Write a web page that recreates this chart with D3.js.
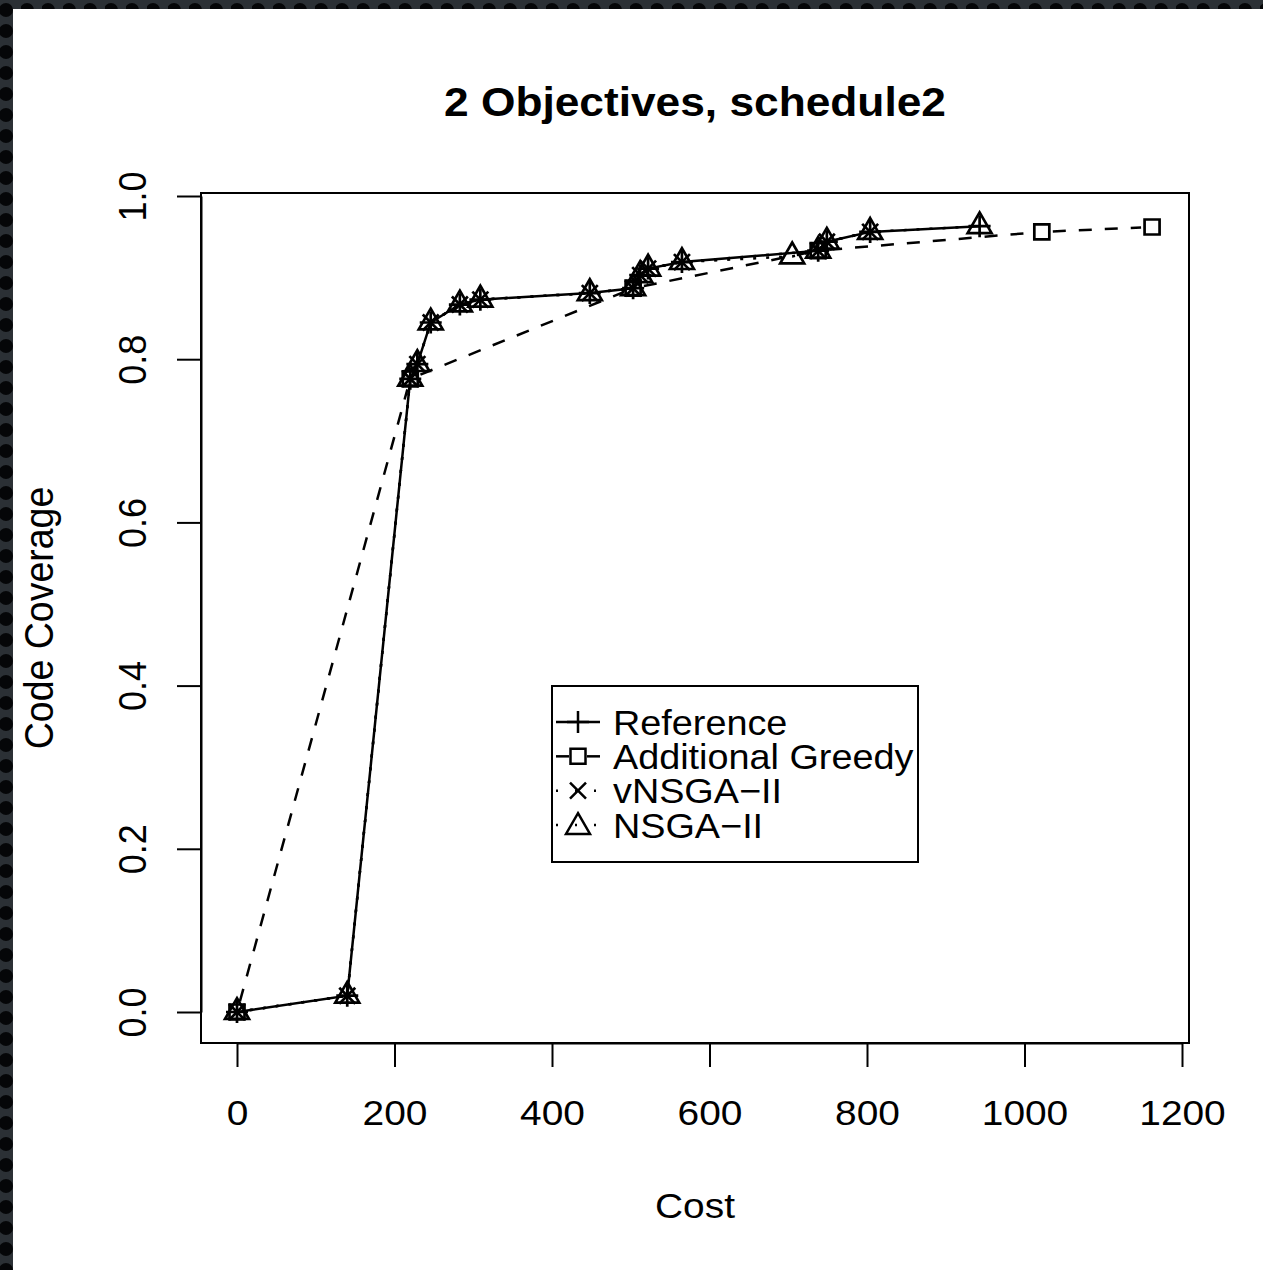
<!DOCTYPE html>
<html>
<head>
<meta charset="utf-8">
<script src="https://cdn.jsdelivr.net/npm/d3@7"></script>
<style>
  body { margin: 0; background: #fff; }
  svg text { font-family: "Liberation Sans", Arial, Helvetica, sans-serif; fill: #000; }
</style>
</head>
<body>
<div id="chart"></div>
<script>
// data
var xTicks = [0, 200, 400, 600, 800, 1000, 1200];
var yTicks = [0, 0.2, 0.4, 0.6, 0.8, 1.0];
var yTickLabels = ["0.0", "0.2", "0.4", "0.6", "0.8", "1.0"];

var refCost = [0, 140, 220, 229, 246, 283, 309, 448, 503, 512, 522, 565, 738, 749, 804, 943];
var refCov  = [0, 0.020, 0.776, 0.794, 0.845, 0.867, 0.873, 0.881, 0.887, 0.903, 0.911, 0.919, 0.933, 0.944, 0.956, 0.963];

var greedyCost = [0, 220, 503, 738, 1022, 1162];
var greedyCov  = [0, 0.776, 0.887, 0.933, 0.956, 0.962];

var vnsgaCost = [0, 140, 220, 229, 246, 283, 309, 448, 503, 512, 522, 565, 738, 749, 804];
var vnsgaCov  = [0, 0.020, 0.776, 0.794, 0.845, 0.867, 0.873, 0.881, 0.887, 0.903, 0.911, 0.919, 0.933, 0.944, 0.956];

var nsgaCost = [0, 140, 220, 229, 246, 283, 309, 448, 503, 512, 522, 565, 705, 738, 749, 804, 943];
var nsgaCov  = [0, 0.020, 0.776, 0.794, 0.845, 0.867, 0.873, 0.881, 0.887, 0.903, 0.911, 0.919, 0.926, 0.933, 0.944, 0.956, 0.963];

var legendNames = ["Reference", "Additional Greedy", "vNSGA\u2212II", "NSGA\u2212II"];

var W = 1263, H = 1270;
var stretch = 1.08; // the picture's text is a bit wider than Liberation Sans

var svg = d3.select("#chart").append("svg")
    .attr("width", W)
    .attr("height", H);

// dark dotted frame round the page
var defs = svg.append("defs");
var pat = defs.append("pattern")
    .attr("id", "dots")
    .attr("width", 21).attr("height", 21)
    .attr("patternUnits", "userSpaceOnUse");
pat.append("rect").attr("width", 21).attr("height", 21).attr("fill", "#2b3035");
pat.append("circle").attr("cx", 6).attr("cy", 10).attr("r", 7).attr("fill", "#050608");
svg.append("rect").attr("width", W).attr("height", H).attr("fill", "url(#dots)");
svg.append("rect")
    .attr("x", 13).attr("y", 9)
    .attr("width", W - 13).attr("height", H - 9)
    .attr("fill", "#fff");

var x = d3.scaleLinear().domain([0, 1200]).range([237, 1182]);
var y = d3.scaleLinear().domain([0, 1]).range([1012, 196]);

var box = { left: 201, right: 1189, top: 193, bottom: 1043 };

// title
svg.append("text")
    .attr("transform", "translate(695,116) scale(" + stretch + ",1)")
    .attr("text-anchor", "middle")
    .style("font-size", "41px")
    .style("font-weight", "bold")
    .text("2 Objectives, schedule2");

// x axis
var xAxis = svg.append("g")
    .attr("transform", "translate(0," + box.bottom + ")")
    .call(d3.axisBottom(x).tickValues(xTicks).tickSize(24).tickSizeOuter(0)
        .tickFormat(d3.format("d")));
xAxis.selectAll("path, line").attr("stroke", "#000").attr("stroke-width", 2);
xAxis.selectAll("text")
    .style("font-size", "36px")
    .attr("y", null).attr("dy", null)
    .attr("transform", "translate(0," + (1125 - box.bottom) + ") scale(" + stretch + ",1)");

// y axis
var yAxis = svg.append("g")
    .attr("transform", "translate(" + box.left + ",0)")
    .call(d3.axisLeft(y).tickValues(yTicks).tickSize(24).tickSizeOuter(0)
        .tickFormat(function(d, i) { return yTickLabels[i]; }));
yAxis.selectAll("path, line").attr("stroke", "#000").attr("stroke-width", 2);
yAxis.selectAll("text")
    .style("font-size", "36px")
    .attr("x", null).attr("dy", null)
    .attr("text-anchor", "middle")
    .attr("transform", "translate(-55,0) rotate(-90) scale(1," + stretch + ")")
    .attr("y", 0);

// axis titles
svg.append("text")
    .attr("transform", "translate(695,1218) scale(" + stretch + ",1)")
    .attr("text-anchor", "middle")
    .style("font-size", "36px")
    .text("Cost");
svg.append("text")
    .attr("transform", "translate(53,618) rotate(-90) scale(1," + stretch + ")")
    .attr("text-anchor", "middle")
    .style("font-size", "37.5px")
    .text("Code Coverage");

// plot box
svg.append("rect")
    .attr("x", box.left).attr("y", box.top)
    .attr("width", box.right - box.left)
    .attr("height", box.bottom - box.top)
    .attr("fill", "none")
    .attr("stroke", "#000")
    .attr("stroke-width", 2);

// marker shapes (pixel offsets around a point)
function plusPath(s) { return "M" + (-s) + ",0H" + s + "M0," + (-s) + "V" + s; }
function xPath(s) { return "M" + (-s) + "," + (-s) + "L" + s + "," + s + "M" + (-s) + "," + s + "L" + s + "," + (-s); }
function squarePath(s) { return "M" + (-s) + "," + (-s) + "H" + s + "V" + s + "H" + (-s) + "Z"; }
function trianglePath(s) {
    // R pch 2 geometry: s = base radius
    var r = 1.555 * s, xc = 1.347 * s, yc = 0.778 * s;
    return "M0," + (-r) + "L" + xc + "," + yc + "L" + (-xc) + "," + yc + "Z";
}

var series = [
    { cost: refCost, cov: refCov, dash: null, marker: plusPath, size: 11, gap: 0 },
    { cost: greedyCost, cov: greedyCov, dash: "13,13", marker: squarePath, size: 7.5, gap: 11 },
    { cost: vnsgaCost, cov: vnsgaCov, dash: "3,10", marker: xPath, size: 8, gap: 0 },
    { cost: nsgaCost, cov: nsgaCov, dash: "3,10", marker: trianglePath, size: 8.9, gap: 0 }
];

var line = d3.line();

series.forEach(function(s) {
    var pts = s.cost.map(function(c, i) { return [x(c), y(s.cov[i])]; });
    var g = svg.append("g");
    if (s.gap > 0) {
        // type "b": leave a gap round each point
        for (var i = 0; i < pts.length - 1; i++) {
            var a = pts[i], b = pts[i + 1];
            var dx = b[0] - a[0], dy = b[1] - a[1];
            var len = Math.sqrt(dx * dx + dy * dy);
            if (len <= 2 * s.gap) continue;
            var ux = dx / len, uy = dy / len;
            g.append("path")
                .attr("d", line([[a[0] + ux * s.gap, a[1] + uy * s.gap], [b[0] - ux * s.gap, b[1] - uy * s.gap]]))
                .attr("fill", "none").attr("stroke", "#000").attr("stroke-width", 2.5)
                .attr("stroke-dasharray", s.dash);
        }
    } else {
        g.append("path")
            .attr("d", line(pts))
            .attr("fill", "none").attr("stroke", "#000").attr("stroke-width", 2.5)
            .attr("stroke-dasharray", s.dash);
    }
    g.selectAll(".m").data(pts).enter().append("path")
        .attr("transform", function(d) { return "translate(" + d[0] + "," + d[1] + ")"; })
        .attr("d", s.marker(s.size))
        .attr("fill", "none").attr("stroke", "#000").attr("stroke-width", 2.7);
});

// legend
var lg = svg.append("g");
lg.append("rect")
    .attr("x", 552).attr("y", 686)
    .attr("width", 366).attr("height", 176)
    .attr("fill", "#fff").attr("stroke", "#000").attr("stroke-width", 2);

var rowY = d3.scalePoint().domain(legendNames).range([722, 825]);
legendNames.forEach(function(name, i) {
    var s = series[i], cy = rowY(name), cx = 578;
    if (s.gap > 0) {
        lg.append("line").attr("x1", 556).attr("x2", cx - s.gap + 2).attr("y1", cy).attr("y2", cy)
            .attr("stroke", "#000").attr("stroke-width", 2.5);
        lg.append("line").attr("x1", cx + s.gap - 2).attr("x2", 600).attr("y1", cy).attr("y2", cy)
            .attr("stroke", "#000").attr("stroke-width", 2.5);
    } else {
        lg.append("line").attr("x1", 556).attr("x2", 600).attr("y1", cy).attr("y2", cy)
            .attr("stroke", "#000").attr("stroke-width", 2.5)
            .attr("stroke-dasharray", s.dash ? "2,17" : null);
    }
    lg.append("path")
        .attr("transform", "translate(" + cx + "," + (i == 3 ? cy + 2 : cy) + ")")
        .attr("d", s.marker(s.size))
        .attr("fill", "none").attr("stroke", "#000").attr("stroke-width", 2.5);
    lg.append("text")
        .attr("transform", "translate(613," + (cy + 12.5) + ") scale(" + stretch + ",1)")
        .style("font-size", "35px")
        .text(name);
});
</script>
</body>
</html>
